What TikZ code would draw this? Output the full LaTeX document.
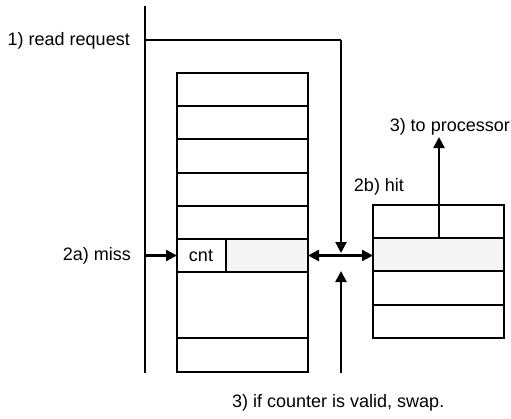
\documentclass[tikz,border=0pt]{standalone}
\usepackage{fontspec}
\setmainfont{Liberation Sans}
\usetikzlibrary{arrows.meta}
\begin{document}
\begin{tikzpicture}[x=1pt,y=-1pt,
  thickline/.style={line width=2.4pt},
  arr/.style={thickline,-{Triangle[length=11pt,width=11pt]}},
  cellline/.style={line width=1.1pt},
  lbl/.style={font=\fontsize{18}{20}\selectfont,inner sep=0pt},
  stip/.style={fill=gray!8}]
\useasboundingbox (0,0) rectangle (511,418);
% left table
\fill[stip] (226,239) rectangle (308,272);
\foreach \y in {106,139,173,206,239,272,338}{\draw[cellline] (177,\y) -- (308,\y);}
\draw[cellline] (177,73) rectangle (308,372);
\draw[cellline] (226,239) -- (226,272);
\node[lbl] (cnt) at (201,255.5) {cnt};
\coordinate (ltR) at (308,255.5);
\coordinate (ltL) at (177,255.5);
% right table
\fill[stip] (373,238) rectangle (504,271);
\foreach \y in {238,271,305}{\draw[cellline] (373,\y) -- (504,\y);}
\draw[cellline] (373,205) rectangle (504,338);
\coordinate (rtL) at (373,255.5);
\coordinate (rtU) at (439,238);
% left long line
\coordinate (vtop) at (145,6);
\coordinate (vbot) at (145,373);
\draw[thickline] (vtop) -- (vbot);
% read request
\node[lbl,anchor=east] (rr) at (130,41) {1) read request};
\coordinate (rrA) at (145,40);
\coordinate (rrB) at (341,40);
\coordinate (rrC) at (341,253);
\draw[thickline] (rrA) -- (rrB);
\draw[arr] (rrB) -- (rrC);
% swap arrow
\draw[thickline,{Triangle[length=11pt,width=11pt]}-{Triangle[length=11pt,width=11pt]}] (ltR) -- (rtL);
% bottom arrow
\coordinate (bb) at (341,373);
\coordinate (bt) at (341,271);
\draw[arr] (bb) -- (bt);
% miss
\node[lbl,anchor=east] (miss) at (131,255.5) {2a) miss};
\coordinate (missA) at (145,255.5);
\draw[arr] (missA) -- (ltL);
% hit
\node[lbl] (hit) at (379,187) {2b) hit};
\node[lbl,anchor=east] (proc) at (510,127) {3) to processor};
\coordinate (procB) at (439,137);
\draw[arr] (rtU) -- (procB);
% caption
\node[lbl,anchor=west] (cap) at (232,403) {3) if counter is valid, swap.};
\end{tikzpicture}
\end{document}
